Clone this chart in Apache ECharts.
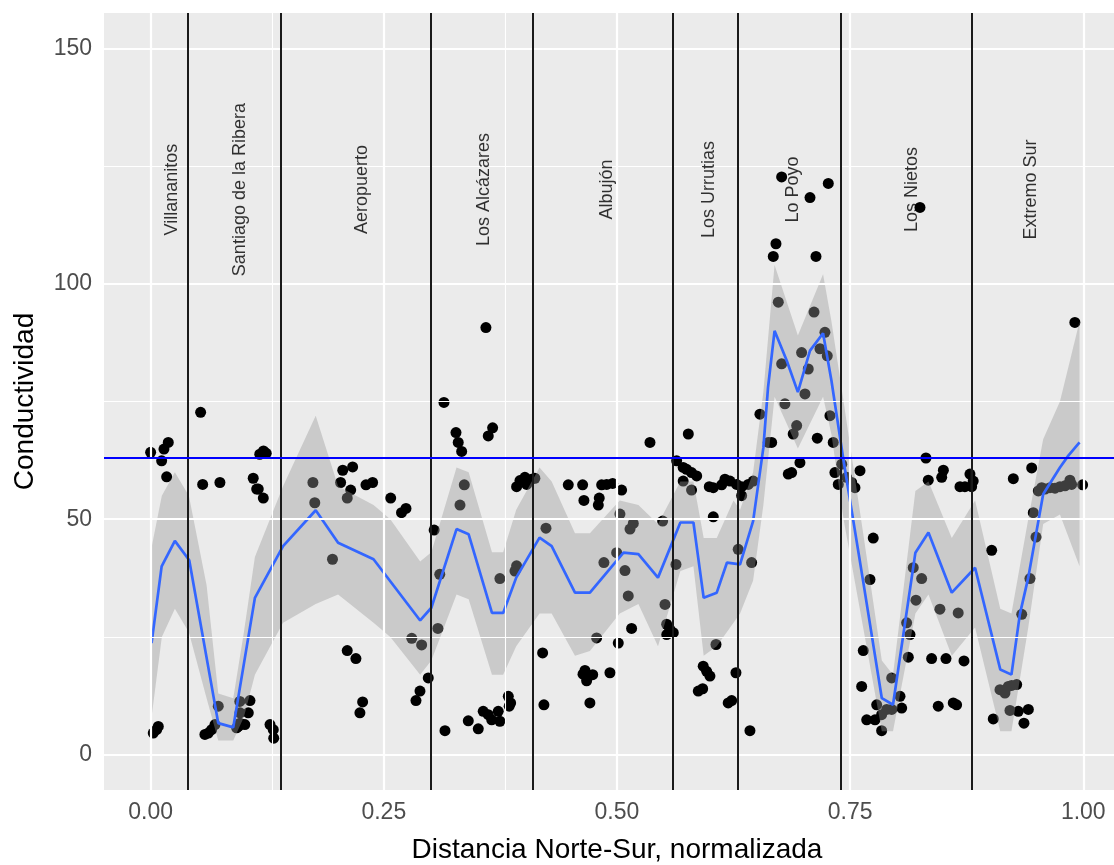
<!DOCTYPE html>
<html><head><meta charset="utf-8">
<script src="https://cdn.jsdelivr.net/npm/echarts@6/dist/echarts.min.js"></script>
<style>html,body{margin:0;padding:0;background:#fff}#c{width:1114px;height:865px}</style>
</head><body><div id="c"></div>
<script>
// ---------- data ----------
const pointX = [
0.000,0.0118,0.0143,0.0189,0.0172,0.0028,0.0064,0.0082,
0.0536,0.0558,0.0743,0.110,0.1137,0.1154,0.1208,0.117,0.121,0.124,0.0582,0.0618,0.0654,0.069,0.0725,0.094,0.0958,0.101,0.0956,0.1065,0.0958,0.1047,0.0922,0.128,0.1315,0.132,
0.174,0.176,0.195,0.206,0.2166,0.2037,0.2145,0.2108,0.2309,0.238,0.2574,0.269,0.2738,0.2108,0.2201,0.2273,0.2244,0.280,0.2906,0.2977,0.2888,0.2845,
0.304,0.310,0.308,0.3156,0.3145,0.3274,0.3298,0.3335,0.362,0.3667,0.3595,0.3363,0.3317,0.3406,0.3513,0.3566,0.362,0.3657,0.3727,0.3745,0.3835,0.386,0.3845,0.3745,0.3924,0.3906,0.3924,0.396,0.4013,
0.4032,0.4085,0.412,0.4239,0.4203,0.4217,0.4478,0.4632,0.4646,0.481,0.480,0.4836,0.489,0.4954,0.505,0.4636,0.4657,0.469,0.474,0.4675,0.471,0.4925,0.4782,0.486,0.4997,0.5086,0.5032,0.514,0.5175,0.5121,0.5157,0.5014,0.5354,0.549,0.5515,0.5533,0.5568,0.5604,0.5533,
0.564,0.571,0.5747,0.580,0.5855,0.571,0.580,0.5765,0.5633,0.6062,0.6033,0.5925,0.5962,0.5997,0.5872,0.5919,0.6276,0.6193,0.623,0.599,0.6033,0.6123,0.6158,0.6212,0.6283,
0.6337,0.6408,0.6462,0.6337,0.630,0.6444,0.6426,0.6533,0.6622,0.6659,0.6801,0.689,0.6927,0.7016,0.6837,0.6873,0.6962,0.7148,0.7284,0.7319,0.7337,0.7373,0.6766,0.707,0.7266,0.6705,0.6676,0.7134,0.673,0.7113,0.723,0.698,0.7177,0.7255,0.6766,0.7051,
0.741,0.7463,0.7517,0.7552,0.7606,0.7748,0.7713,0.7641,0.7624,0.7946,0.7785,0.7678,0.7767,0.7838,0.7892,0.7946,0.7838,0.8035,0.8053,0.8106,0.8142,0.8124,0.8177,0.8267,0.8206,0.8313,0.8338,0.8482,0.850,0.8463,0.8659,0.8374,0.8528,0.8721,0.8445,0.8606,0.8642,0.8678,0.8731,0.8785,0.882,0.8803,0.8249,
0.9018,0.925,0.9447,0.9035,0.9107,0.916,0.9196,0.9232,0.9286,0.9214,0.9303,0.9411,0.9364,0.934,0.9428,0.9493,0.9464,0.9518,0.9554,0.959,0.9643,0.9697,0.975,0.9804,0.9857,0.9875,0.9993,0.991
];
const pointY = [
64.2,62.4,64.9,66.3,59.0,4.6,5.3,6.0,
72.7,57.4,57.8,58.7,56.4,56.4,54.5,63.8,64.5,64.0,4.3,4.6,5.3,6.4,10.3,6.0,6.7,6.4,11.3,11.5,8.9,8.9,5.7,6.4,5.3,3.5,
57.8,53.5,41.5,60.4,61.1,57.8,56.2,54.5,57.3,57.8,54.5,51.4,52.3,22.1,20.4,11.2,8.9,24.7,23.3,16.3,13.5,11.5,
47.7,38.3,26.8,5.1,74.8,68.4,66.3,64.4,67.7,69.4,90.7,57.3,53.0,7.2,5.5,9.2,8.5,7.4,9.2,7.1,12.4,11.0,10.3,37.4,40.1,39.0,56.9,58.2,58.9,
57.4,58.5,58.7,48.1,21.6,10.6,57.3,57.3,54.0,54.5,53.0,57.3,57.4,57.6,56.2,17.1,17.9,16.7,17.0,15.7,11.0,17.4,24.8,40.8,42.9,39.1,51.1,47.9,49.1,33.7,26.8,23.7,66.3,49.6,31.9,27.7,26.6,25.9,25.5,
62.4,61.0,60.6,59.9,59.2,58.1,56.2,68.1,40.4,23.4,50.5,18.8,17.7,16.7,13.5,14.0,17.4,11.0,11.5,56.9,56.7,57.3,58.5,58.1,57.4,
56.9,57.4,58.1,55.0,43.6,40.8,5.1,72.3,66.3,66.3,74.5,68.1,69.9,76.6,59.6,59.9,62.0,67.2,72.0,66.3,59.9,57.4,122.7,118.3,121.3,108.5,105.8,105.8,96.1,94.0,89.7,85.4,86.2,84.7,83.0,81.9,
61.7,58.9,57.8,56.7,60.3,46.0,37.2,22.1,14.5,16.3,10.6,7.4,7.4,8.5,9.6,9.6,5.1,12.4,9.9,28.0,25.5,20.7,39.7,37.4,32.8,63.0,58.3,58.9,60.4,30.9,30.1,20.4,20.4,19.9,10.3,11.0,10.6,56.9,56.9,59.6,58.1,56.9,116.2,
43.4,58.6,60.9,7.6,13.8,13.1,14.5,14.7,14.9,9.4,9.2,9.6,6.7,29.8,37.4,46.2,51.4,56.0,56.7,56.4,56.7,56.6,56.9,57.1,58.3,57.4,57.3,91.8
];

const smoothX = [0.001,0.0118,0.026,0.0414,0.0725,0.0886,0.1118,0.142,0.177,0.201,0.239,0.289,0.301,0.328,0.341,0.366,0.378,0.392,0.417,0.43,0.455,0.471,0.507,0.523,0.544,0.568,0.582,0.593,0.607,0.618,0.632,0.646,0.657,0.662,0.669,0.682,0.694,0.707,0.721,0.730,0.743,0.764,0.784,0.796,0.82,0.834,0.859,0.884,0.911,0.923,0.932,0.941,0.957,0.975,0.984,0.996];
const smoothY = [23.7,40.0,45.4,41.3,6.7,5.8,33.3,44.3,51.9,45.0,41.5,28.5,31.2,47.9,46.8,30.1,30.1,37.6,46.1,44.3,34.4,34.4,42.9,42.6,37.6,49.3,49.3,33.3,34.4,40.8,40.4,49.6,65.2,78.0,90.0,83.7,77.0,85.8,89.5,79.4,62.4,36.8,12.0,10.6,42.9,47.2,34.4,39.7,18.1,17.0,29.8,37.6,55.3,61.0,63.5,66.3];

const bandX     = [0.001,0.012,0.026,0.041,0.06,0.0725,0.0886,0.100,0.1118,0.142,0.177,0.201,0.239,0.257,0.289,0.301,0.328,0.341,0.366,0.378,0.392,0.417,0.43,0.455,0.471,0.503,0.523,0.544,0.568,0.582,0.593,0.607,0.625,0.632,0.646,0.657,0.669,0.694,0.721,0.730,0.743,0.764,0.784,0.796,0.82,0.834,0.859,0.884,0.911,0.923,0.941,0.957,0.975,0.996];
const bandLower = [8,25,31,26,12,3,3,8,17,28,32,34,28,25,17,20,34,33,17,17,23,30,30,21,22,30,32,23,39,40,21,23,28,30,37,53,76,65,76,68,50,27,5,5,30,34,21,27,5,5,27,49,51,40];
const bandUpper = [44,55,60,55,36,13,12,26,42,57,72,57,53,50,41,43,61,60,43,43,52,61,58,47,47,54,53,49,58,58,46,46,54,52,60,77,104,89,102,92,75,47,20,17,56,58,46,54,31,30,50,67,75,92];

const boundaryX = [0.0429,0.1415,0.3022,0.4067,0.5593,0.6326,0.7391,0.8846];
const threshold = 63;
const zoneNames = ['Villananitos','Santiago de la Ribera','Aeropuerto','Los Alcázares','Albujón','Los Urrutias','Lo Poyo','Los Nietos','Extremo Sur'];
const zoneLabelX = [0.0225,0.0954,0.2262,0.3574,0.4889,0.5987,0.689,0.816,0.9436];
const zoneLabelY = 120;

const xMajor = [0,0.25,0.5,0.75,1];
const xMinor = [0.125,0.375,0.625,0.875];
const yMajor = [0,50,100,150];
const yMinor = [25,75,125];

// ---------- chart ----------
const FONT = '"Liberation Sans", Arial, sans-serif';
const chart = echarts.init(document.getElementById('c'), null, {renderer: 'canvas'});

const gridLines = []
  .concat(xMinor.map(v => ({xAxis: v, lineStyle: {width: 1.1}})))
  .concat(yMinor.map(v => ({yAxis: v, lineStyle: {width: 1.1}})))
  .concat(xMajor.map(v => ({xAxis: v, lineStyle: {width: 2.2}})))
  .concat(yMajor.map(v => ({yAxis: v, lineStyle: {width: 2.2}})));

const bandData = bandX.map((x, i) => [x, bandLower[i], bandUpper[i]]);

chart.setOption({
  animation: false,
  backgroundColor: '#ffffff',
  textStyle: {fontFamily: FONT},
  grid: {left: 104, top: 13, width: 1025.9, height: 777, show: true, backgroundColor: '#EBEBEB', borderWidth: 0,
         containLabel: false, outerBoundsMode: 'none'},
  xAxis: {
    type: 'value', min: -0.05, max: 1.05,
    axisLine: {show: false},
    splitLine: {show: false},
    axisTick: {show: true, customValues: xMajor, length: 5, lineStyle: {color: '#333333', width: 1.5}},
    axisLabel: {customValues: xMajor, formatter: v => Number(v).toFixed(2), color: '#4D4D4D', fontSize: 23, margin: 11, fontFamily: FONT},
    name: 'Distancia Norte-Sur, normalizada', nameLocation: 'middle', nameGap: 46,
    nameTextStyle: {fontSize: 28, color: '#000000', fontFamily: FONT}
  },
  yAxis: {
    type: 'value', min: -7.5, max: 157.5,
    axisLine: {show: false},
    splitLine: {show: false},
    axisTick: {show: true, customValues: yMajor, length: 5, lineStyle: {color: '#333333', width: 1.5}},
    axisLabel: {customValues: yMajor, color: '#4D4D4D', fontSize: 23, margin: 12, fontFamily: FONT},
    name: 'Conductividad', nameLocation: 'middle', nameGap: 65,
    nameTextStyle: {fontSize: 28, color: '#000000', fontFamily: FONT}
  },
  series: [
    {
      type: 'line', data: [], z: 1, silent: true,
      markLine: {silent: true, symbol: ['none', 'none'], label: {show: false},
        lineStyle: {color: '#FFFFFF', type: 'solid'}, data: gridLines}
    },
    {
      type: 'scatter', z: 2, symbolSize: 11, itemStyle: {color: '#000000', opacity: 1},
      data: pointX.map((x, i) => [x, pointY[i]])
    },
    {
      type: 'custom', z: 3, silent: true, clip: true,
      data: bandData,
      renderItem: function (params, api) {
        if (params.dataIndex !== 0) return null;
        const pts = [];
        for (let i = 0; i < bandData.length; i++) pts.push(api.coord([bandData[i][0], bandData[i][2]]));
        for (let i = bandData.length - 1; i >= 0; i--) pts.push(api.coord([bandData[i][0], bandData[i][1]]));
        return {type: 'polygon', shape: {points: pts}, style: {fill: 'rgba(153,153,153,0.4)', stroke: 'none'}};
      }
    },
    {
      type: 'line', z: 4, showSymbol: false, symbol: 'none',
      lineStyle: {color: '#3366FF', width: 2.7},
      data: smoothX.map((x, i) => [x, smoothY[i]])
    },
    {
      type: 'line', data: [], z: 5, silent: true,
      markLine: {silent: true, symbol: ['none', 'none'], label: {show: false},
        data: boundaryX.map(v => ({xAxis: v, lineStyle: {color: '#1a1a1a', width: 2, type: 'solid'}}))
          .concat([{yAxis: threshold, lineStyle: {color: '#0000FF', width: 2, type: 'solid'}}])}
    },
    {
      type: 'scatter', z: 6, symbolSize: 0, silent: true,
      data: zoneLabelX.map((x, i) => [x, zoneLabelY, zoneNames[i]]),
      label: {show: true, position: 'inside', rotate: 90, align: 'center', verticalAlign: 'middle',
        formatter: p => p.data[2], fontSize: 18, color: '#000000', fontFamily: FONT}
    }
  ]
});
</script></body></html>
